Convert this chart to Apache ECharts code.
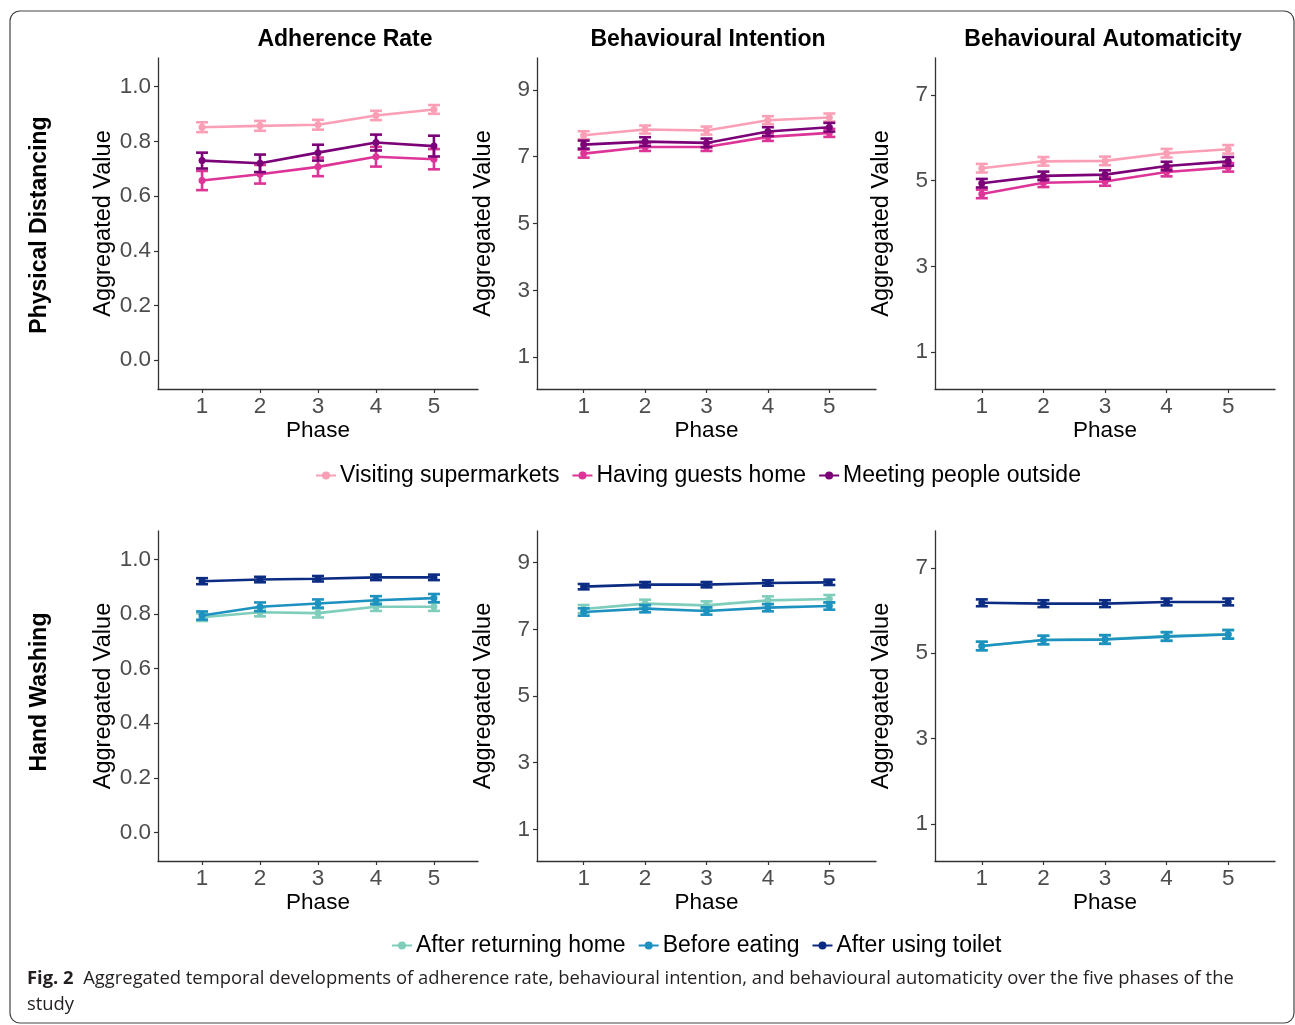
<!DOCTYPE html>
<html>
<head>
<meta charset="utf-8">
<script src="https://cdn.jsdelivr.net/npm/echarts@6/dist/echarts.min.js"></script>
<style>
html,body{margin:0;padding:0;background:#fff;}
#chart{width:1295px;height:1025px;}
</style>
</head>
<body>
<div id="chart"></div>
<script>
// ---------- DATA ----------
const phases = [1, 2, 3, 4, 5];
const phaseTicks = [1, 2, 3, 4, 5];
const panelTitles = ['Adherence Rate', 'Behavioural Intention', 'Behavioural Automaticity'];
const rowTitles = ['Physical Distancing', 'Hand Washing'];
const physNames = ['Visiting supermarkets', 'Having guests home', 'Meeting people outside'];
const handNames = ['After returning home', 'Before eating', 'After using toilet'];
const adhTicks = [0.0, 0.2, 0.4, 0.6, 0.8, 1.0];
const intTicks = [1, 3, 5, 7, 9];
const autTicks = [1, 3, 5, 7];

// Physical distancing - adherence
const adhSuper = [0.852, 0.857, 0.861, 0.895, 0.917];
const adhSuperErr = [0.018, 0.018, 0.018, 0.017, 0.016];
const adhGuests = [0.657, 0.680, 0.707, 0.744, 0.735];
const adhGuestsErr = [0.035, 0.034, 0.034, 0.036, 0.037];
const adhMeet = [0.730, 0.720, 0.759, 0.796, 0.783];
const adhMeetErr = [0.029, 0.032, 0.029, 0.029, 0.038];
// Physical distancing - intention
const intSuper = [7.64, 7.81, 7.78, 8.09, 8.17];
const intSuperErr = [0.12, 0.12, 0.12, 0.12, 0.12];
const intGuests = [7.09, 7.29, 7.29, 7.59, 7.71];
const intGuestsErr = [0.12, 0.12, 0.12, 0.12, 0.12];
const intMeet = [7.36, 7.45, 7.41, 7.75, 7.88];
const intMeetErr = [0.12, 0.13, 0.13, 0.13, 0.13];
// Physical distancing - automaticity
const autSuper = [5.29, 5.45, 5.46, 5.64, 5.73];
const autSuperErr = [0.10, 0.10, 0.10, 0.10, 0.10];
const autGuests = [4.69, 4.95, 4.98, 5.20, 5.31];
const autGuestsErr = [0.10, 0.10, 0.10, 0.10, 0.10];
const autMeet = [4.94, 5.11, 5.14, 5.34, 5.45];
const autMeetErr = [0.10, 0.10, 0.10, 0.10, 0.10];
// Hand washing - adherence
const adhReturn = [0.789, 0.807, 0.804, 0.827, 0.827];
const adhReturnErr = [0.014, 0.015, 0.016, 0.015, 0.015];
const adhEating = [0.795, 0.827, 0.839, 0.851, 0.859];
const adhEatingErr = [0.015, 0.016, 0.015, 0.015, 0.015];
const adhToilet = [0.921, 0.927, 0.930, 0.935, 0.935];
const adhToiletErr = [0.011, 0.010, 0.010, 0.010, 0.010];
// Hand washing - intention
const intReturn = [7.61, 7.77, 7.72, 7.87, 7.91];
const intReturnErr = [0.12, 0.12, 0.12, 0.12, 0.12];
const intEating = [7.52, 7.62, 7.55, 7.65, 7.70];
const intEatingErr = [0.11, 0.11, 0.11, 0.11, 0.11];
const intToilet = [8.28, 8.34, 8.34, 8.39, 8.41];
const intToiletErr = [0.08, 0.08, 0.08, 0.08, 0.08];
// Hand washing - automaticity
const autReturn = [5.17, 5.31, 5.33, 5.40, 5.45];
const autReturnErr = [0.10, 0.10, 0.10, 0.10, 0.10];
const autEating = [5.17, 5.31, 5.32, 5.39, 5.44];
const autEatingErr = [0.10, 0.10, 0.10, 0.10, 0.10];
const autToilet = [6.18, 6.16, 6.16, 6.20, 6.20];
const autToiletErr = [0.08, 0.08, 0.08, 0.08, 0.08];

const captionBold = 'Fig. 2';
const captionText = 'Aggregated temporal developments of adherence rate, behavioural intention, and behavioural automaticity over the five phases of the\nstudy';

// ---------- STYLE / LAYOUT ----------
const physColors = ['#fa9fb5', '#dd3497', '#7a0177'];
const handColors = ['#7fcdbb', '#1d91c0', '#0c2c84'];
const FONT = 'Arial, Liberation Sans, sans-serif';
const colLeft = [158, 537, 935];
const colWidth = [320, 339, 340];
const rowTop = [58, 531];
const rowHeight = [331, 330];
const yRanges = [[-0.105, 1.105], [0.05, 9.95], [0.14, 7.86]];
const yTickSets = [adhTicks, intTicks, autTicks];
const yFormat = [v => v.toFixed(1), v => String(v), v => String(v)];

const physData = [
  [[adhSuper, adhSuperErr], [adhGuests, adhGuestsErr], [adhMeet, adhMeetErr]],
  [[intSuper, intSuperErr], [intGuests, intGuestsErr], [intMeet, intMeetErr]],
  [[autSuper, autSuperErr], [autGuests, autGuestsErr], [autMeet, autMeetErr]]
];
const handData = [
  [[adhReturn, adhReturnErr], [adhEating, adhEatingErr], [adhToilet, adhToiletErr]],
  [[intReturn, intReturnErr], [intEating, intEatingErr], [intToilet, intToiletErr]],
  [[autReturn, autReturnErr], [autEating, autEatingErr], [autToilet, autToiletErr]]
];

const grids = [], xAxes = [], yAxes = [], series = [];
let gi = 0;
for (let r = 0; r < 2; r++) {
  for (let c = 0; c < 3; c++) {
    grids.push({left: colLeft[c], top: rowTop[r], width: colWidth[c], height: rowHeight[r], containLabel: false});
    xAxes.push({
      type: 'value', gridIndex: gi, min: 0.24, max: 5.76,
      name: 'Phase', nameLocation: 'middle', nameGap: 29,
      nameTextStyle: {fontFamily: FONT, fontSize: 22.5, color: '#000'},
      axisLine: {show: true, onZero: false, lineStyle: {color: '#333', width: 1.3}},
      axisTick: {show: true, length: 4, customValues: phaseTicks, lineStyle: {color: '#333', width: 1.2}},
      axisLabel: {customValues: phaseTicks, fontFamily: FONT, fontSize: 22.5, color: '#4d4d4d', margin: 6},
      splitLine: {show: false}
    });
    const fmt = yFormat[c];
    yAxes.push({
      type: 'value', gridIndex: gi, min: yRanges[c][0], max: yRanges[c][1],
      name: 'Aggregated Value', nameLocation: 'middle', nameGap: 41, nameRotate: 90,
      nameTextStyle: {fontFamily: FONT, fontSize: 23.5, color: '#000'},
      axisLine: {show: true, onZero: false, lineStyle: {color: '#333', width: 1.3}},
      axisTick: {show: true, length: 4, customValues: yTickSets[c], lineStyle: {color: '#333', width: 1.2}},
      axisLabel: {customValues: yTickSets[c], formatter: v => fmt(v), fontFamily: FONT, fontSize: 22.5, color: '#4d4d4d', margin: 7},
      splitLine: {show: false}
    });
    const names = r === 0 ? physNames : handNames;
    const colors = r === 0 ? physColors : handColors;
    const dat = r === 0 ? physData[c] : handData[c];
    for (let s = 0; s < 3; s++) {
      const vals = dat[s][0], errs = dat[s][1];
      series.push({
        type: 'line', name: names[s], xAxisIndex: gi, yAxisIndex: gi,
        data: phases.map((p, i) => [p, vals[i]]),
        color: colors[s],
        lineStyle: {width: 2.6, color: colors[s]},
        itemStyle: {color: colors[s]},
        symbol: 'circle', symbolSize: 7, showSymbol: true,
        z: 2 + s, animation: false, silent: true
      });
      series.push({
        type: 'custom', name: names[s] + ' error', xAxisIndex: gi, yAxisIndex: gi,
        data: phases.map((p, i) => [p, vals[i] - errs[i], vals[i] + errs[i]]),
        z: 2 + s, animation: false, silent: true,
        renderItem: (params, api) => {
          const lo = api.coord([api.value(0), api.value(1)]);
          const hi = api.coord([api.value(0), api.value(2)]);
          const hw = 6;
          const st = {stroke: colors[s], lineWidth: 2.6, fill: null};
          return {type: 'group', children: [
            {type: 'line', shape: {x1: lo[0], y1: lo[1], x2: hi[0], y2: hi[1]}, style: st},
            {type: 'line', shape: {x1: lo[0] - hw, y1: lo[1], x2: lo[0] + hw, y2: lo[1]}, style: st},
            {type: 'line', shape: {x1: hi[0] - hw, y1: hi[1], x2: hi[0] + hw, y2: hi[1]}, style: st}
          ]};
        }
      });
    }
    gi++;
  }
}

const titleCenters = [340, 703, 1098];
const titles = panelTitles.map((t, i) => ({
  text: t, left: titleCenters[i], top: 23, textAlign: 'center',
  textStyle: {fontFamily: FONT, fontSize: 23, fontWeight: 'bold', color: '#000'}
}));

const legendStyle = {
  orient: 'horizontal', itemWidth: 20, itemHeight: 10, itemGap: 12,
  textStyle: {fontFamily: FONT, fontSize: 23, color: '#000', padding: [0, 0, 0, -1]},
  selectedMode: false
};

const option = {
  backgroundColor: '#fff',
  animation: false,
  title: titles,
  grid: grids,
  xAxis: xAxes,
  yAxis: yAxes,
  legend: [
    Object.assign({data: physNames, left: 310, top: 459}, legendStyle),
    Object.assign({data: handNames, left: 386, top: 929}, legendStyle)
  ],
  series: series,
  graphic: [
    {type: 'rect', shape: {x: 10, y: 11, width: 1284, height: 1012, r: 10},
     style: {fill: null, stroke: '#444', lineWidth: 1.2}, z: -10, silent: true},
    {type: 'text', x: 40, y: 225, rotation: Math.PI / 2,
     style: {text: rowTitles[0], fontFamily: FONT, fontSize: 23, fontWeight: 'bold', fill: '#000', align: 'center', verticalAlign: 'middle'}},
    {type: 'text', x: 40, y: 692, rotation: Math.PI / 2,
     style: {text: rowTitles[1], fontFamily: FONT, fontSize: 23, fontWeight: 'bold', fill: '#000', align: 'center', verticalAlign: 'middle'}},
    {type: 'text', x: 27, y: 966,
     style: {text: '{b|' + captionBold + '}  ' + captionText, fontFamily: 'Open Sans, sans-serif', fontSize: 18.4, fill: '#231f20', lineHeight: 26,
       rich: {b: {fontFamily: 'Open Sans, sans-serif', fontSize: 18.4, fontWeight: 'bold', fill: '#231f20', lineHeight: 26}}}}
  ]
};

const chart = echarts.init(document.getElementById('chart'), null, {renderer: 'canvas'});
chart.setOption(option);
</script>
</body>
</html>
